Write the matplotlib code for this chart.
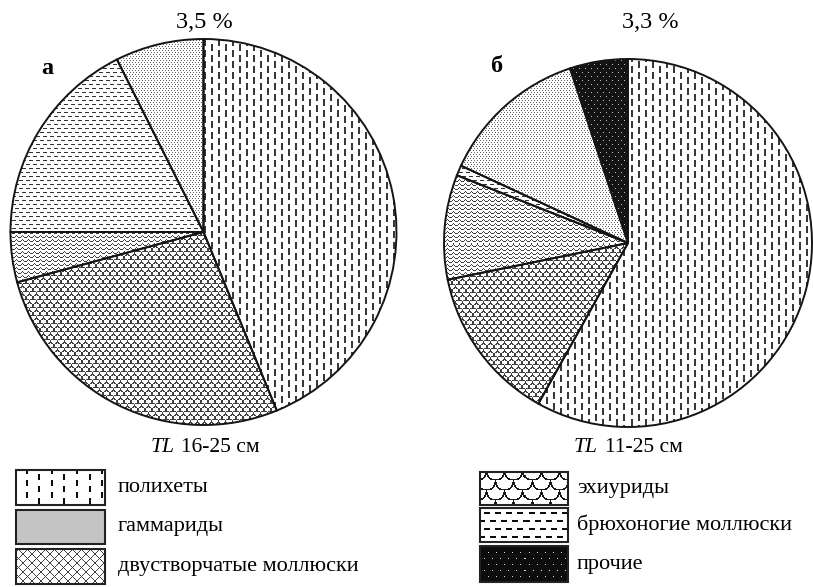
import numpy as np
import matplotlib
matplotlib.use("Agg")
import matplotlib.pyplot as plt
from matplotlib.patches import Rectangle

W, H, DPI = 813, 587, 100

# Diet composition, % (slices listed clockwise from 12 o'clock)
slice_names = ["полихеты", "эхиуриды", "двустворчатые моллюски",
               "брюхоногие моллюски", "гаммариды", "прочие"]
share_a = [43.8, 27.0, 4.2, 17.6, 7.4, 0.0]
share_b = [58.1, 13.7, 9.2, 0.9, 13.0, 5.1]

top_label_a, top_label_b = "3,5 %", "3,3 %"
panel_a, panel_b = "а", "б"
size_a, size_b = "16-25 см", "11-25 см"

legend_left = ["полихеты", "гаммариды", "двустворчатые моллюски"]
legend_right = ["эхиуриды", "брюхоногие моллюски", "прочие"]

SERIF = ["Liberation Serif", "DejaVu Serif"]


# ---------- texture generators (pixel grids -> RGB image) ----------
def shade(mask, ink, bg=1.0):
    v = np.where(mask, ink, bg).astype(float)
    return np.dstack([v, v, v])


def vdash(xx, yy, px, py, length, width, ink):
    col = np.floor(xx / px)
    off = (col % 2) * py / 2
    m = ((xx % px) < width) & (((yy + off) % py) < length)
    return shade(m, ink)


def hdash(xx, yy, px, py, length, thick, ink):
    row = np.floor(yy / py)
    off = (row % 2) * px / 2
    m = ((yy % py) < thick) & (((xx + off) % px) < length)
    return shade(m, ink)


def dots(xx, yy, px, py, ink, bg=1.0):
    row = np.floor(yy / py)
    off = (row % 2) * (px // 2)
    m = ((yy % py) == 0) & (((xx + off) % px) == 0)
    return shade(m, ink, bg)


def cross(xx, yy, p, ink):
    m = ((xx + yy) % p == 0) | ((xx - yy) % p == 0)
    return shade(m, ink)


def scales(xx, yy, w, h, ink, lw=0.8):
    rx, ry = w / 2.0, float(h)
    row = np.floor(yy / h)
    x2 = xx - (row % 2) * rx
    cx = np.round(x2 / w) * w
    cy = row * h
    d = np.hypot((x2 - cx) / rx, (yy - cy) / ry)
    m = np.abs(d - 1.0) * min(rx, ry) < lw
    return shade(m, ink)


def zigzag(xx, yy, p, lam, amp, ink):
    t = (xx % lam) / lam
    tri = amp * (2 * np.abs(2 * t - 1) - 1) / 2
    m = ((yy - tri) % p) < 1.0
    return shade(m, ink)


def solid(xx, yy, val):
    return shade(np.zeros_like(xx, dtype=bool), val, val)


pie_tex = {
    "полихеты": lambda x, y: vdash(x, y, 7, 11, 7, 2, 0.22),
    "эхиуриды": lambda x, y: scales(x, y, 7, 4, 0.25, 0.7),
    "двустворчатые моллюски": lambda x, y: zigzag(x, y, 4, 6, 2, 0.25),
    "брюхоногие моллюски": lambda x, y: hdash(x, y, 7, 4, 4, 1, 0.2),
    "гаммариды": lambda x, y: dots(x, y, 3, 2, 0.38),
    "прочие": lambda x, y: dots(x, y, 6, 4, 0.75, 0.08),
}

legend_tex = {
    "полихеты": lambda x, y: vdash(x, y, 12.6, 12, 6, 2, 0.05),
    "гаммариды": lambda x, y: solid(x, y, 0.77),
    "двустворчатые моллюски": lambda x, y: cross(x, y, 9, 0.25),
    "эхиуриды": lambda x, y: scales(x, y, 18, 10, 0.1, 0.9),
    "брюхоногие моллюски": lambda x, y: hdash(x, y, 11, 8, 6, 2, 0.05),
    "прочие": lambda x, y: dots(x, y, 8, 6, 0.85, 0.05),
}

fig = plt.figure(figsize=(W / DPI, H / DPI), dpi=DPI)
fig.patch.set_facecolor("white")


def draw_pie(cx, cy, r, shares):
    m = 1.03
    size = 2 * r * m
    ax = fig.add_axes([(cx - r * m) / W, 1 - (cy + r * m) / H, size / W, size / H])
    names = [n for n, v in zip(slice_names, shares) if v > 0]
    vals = [v for v in shares if v > 0]
    wedges, _ = ax.pie(vals, startangle=90, counterclock=False, radius=1,
                       wedgeprops=dict(facecolor="none", edgecolor="#151515",
                                       linewidth=1.4, zorder=3))
    n = int(round(size))
    xx, yy = np.meshgrid(np.arange(n) + int(cx - r * m), np.arange(n) + int(cy - r * m))
    for wdg, name in zip(wedges, names):
        img = pie_tex[name](xx, yy)
        im = ax.imshow(img, extent=(-m, m, -m, m), origin="upper",
                       interpolation="nearest", zorder=2)
        im.set_clip_path(wdg)
    ax.set_xlim(-m, m)
    ax.set_ylim(-m, m)
    ax.set_aspect("equal")
    ax.axis("off")
    return ax


draw_pie(203.5, 232, 193, share_a)
draw_pie(628, 243, 184, share_b)

# overlay in pixel coordinates for captions and legend
ov = fig.add_axes([0, 0, 1, 1])
ov.set_xlim(0, W)
ov.set_ylim(H, 0)
ov.axis("off")
ov.patch.set_visible(False)

ov.text(204, 22, top_label_a, fontsize=17.5, family=SERIF, ha="center", va="center")
ov.text(650, 22, top_label_b, fontsize=17.5, family=SERIF, ha="center", va="center")
ov.text(47, 68, panel_a, fontsize=17.5, family=SERIF, weight="bold", ha="center", va="center")
ov.text(497, 66, panel_b, fontsize=17.5, family=SERIF, weight="bold", ha="center", va="center")

ov.text(175, 447, "TL", fontsize=15.5, family=SERIF, style="italic", ha="right", va="center")
ov.text(181, 447, size_a, fontsize=15.5, family=SERIF, ha="left", va="center")
ov.text(598, 447, "TL", fontsize=15.5, family=SERIF, style="italic", ha="right", va="center")
ov.text(605, 447, size_b, fontsize=15.5, family=SERIF, ha="left", va="center")

gx, gy = np.meshgrid(np.arange(W), np.arange(H))
boxes_left = [(16, 470, 105, 505), (16, 510, 105, 544), (16, 549, 105, 584)]
boxes_right = [(480, 472, 568, 505), (480, 508, 568, 542), (480, 546, 568, 582)]


def legend_column(names, boxes, tx):
    for name, (x0, y0, x1, y1) in zip(names, boxes):
        rect = Rectangle((x0, y0), x1 - x0, y1 - y0, facecolor="none",
                         edgecolor="#222222", linewidth=1.5, zorder=3)
        ov.add_patch(rect)
        im = ov.imshow(legend_tex[name](gx, gy), extent=(0, W, H, 0), origin="upper",
                       interpolation="nearest", zorder=2)
        im.set_clip_path(rect)
        ov.text(tx, (y0 + y1) / 2, name, fontsize=16, family=SERIF,
                ha="left", va="center")


legend_column(legend_left, boxes_left, 118)
legend_column(legend_right, boxes_right, 577)
ov.set_xlim(0, W)
ov.set_ylim(H, 0)

fig.savefig("out.png", dpi=DPI, facecolor="white")
